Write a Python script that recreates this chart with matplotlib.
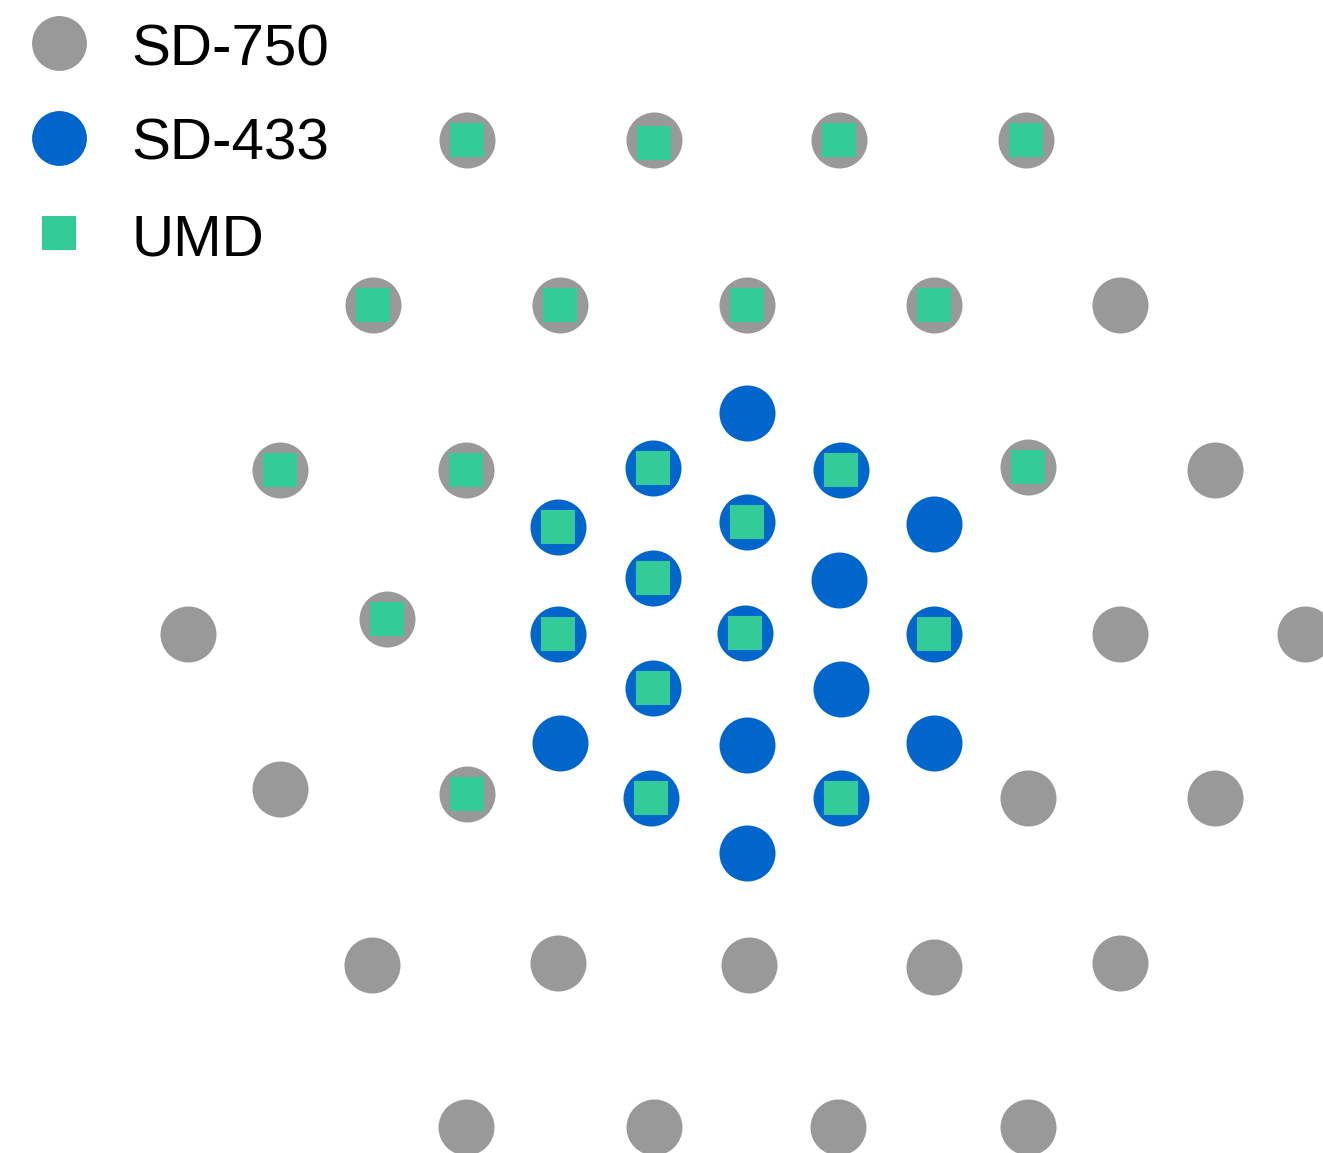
import numpy as np
import matplotlib
matplotlib.use("Agg")
import matplotlib.pyplot as plt

plt.rcParams['font.family'] = ['Liberation Sans', 'DejaVu Sans']

# station positions in metres (array centre = 0,0)
sd750_x = [-1123, -373, 369, 1119,
           -1500, -750, 0, 750, 1496,
           -1873, -1127, 1127, 1877,
           -2242, -1444, 1496, 2238,
           -1873, -1123, 1127, 1877,
           -1504, -758, 8, 750, 1496,
           -1127, -373, 365, 1127]
sd750_y = [1981, 1981, 1981, 1981,
           1320, 1320, 1320, 1320, 1320,
           658, 658, 670, 658,
           0, 60, 0, 0,
           -622, -642, -658, -658,
           -1328, -1320, -1328, -1336, -1320,
           -1977, -1977, -1977, -1977]

sd433_x = [0, -377, 377, -758, 0, 750, -377, 369, -758, -8, 750,
           -377, 377, -750, 0, 750, -385, 377, 0]
sd433_y = [886, 666, 658, 429, 449, 441, 225, 217, 0, 4, 0,
           -217, -221, -437, -445, -437, -658, -658, -878]

umd_x = [-1123, -373, 369, 1119, -1500, -750, 0, 750, -1873, -1127, 1127,
         -1444, -1123,
         -377, 377, -758, 0, -377, -758, -8, 750, -377, -385, 377]
umd_y = [1981, 1969, 1981, 1981, 1320, 1320, 1320, 1320, 658, 658, 670,
         60, -642,
         666, 658, 429, 449, 225, 0, 4, 0, -217, -658, -658]

labels = ['SD-750', 'SD-433', 'UMD']
colors = ['#999999', '#0066CC', '#33CC99']

fig = plt.figure(figsize=(13.23, 11.53), dpi=100)
ax = fig.add_axes([0, 0, 1, 1])

ax.scatter(sd750_x, sd750_y, s=1626, c=colors[0], marker='o', linewidths=0, zorder=1)
ax.scatter(sd433_x, sd433_y, s=1626, c=colors[1], marker='o', linewidths=0, zorder=2)
ax.scatter(umd_x, umd_y, s=600, c=colors[2], marker='s', linewidths=0, zorder=3)

f = 750 / 187.0  # metres per pixel
ax.set_xlim(-747 * f, (1323 - 747) * f)
ax.set_ylim((634 - 1153) * f, 634 * f)
ax.axis('off')

# legend drawn by hand in axes fraction
W, H = 1323.0, 1153.0
for i, (lab, col) in enumerate(zip(labels, colors)):
    yc = 43 + 95 * i
    if lab == 'UMD':
        ax.scatter([58.5 / W], [1 - yc / H], s=600, c=col, marker='s',
                   linewidths=0, transform=ax.transAxes, clip_on=False)
    else:
        ax.scatter([58.5 / W], [1 - yc / H], s=1560, c=col, marker='o',
                   linewidths=0, transform=ax.transAxes, clip_on=False)
    ax.text(131 / W, 1 - (yc + 22) / H, lab, fontsize=42, color='black',
            ha='left', va='baseline', transform=ax.transAxes)

fig.savefig('out.png', dpi=100)
